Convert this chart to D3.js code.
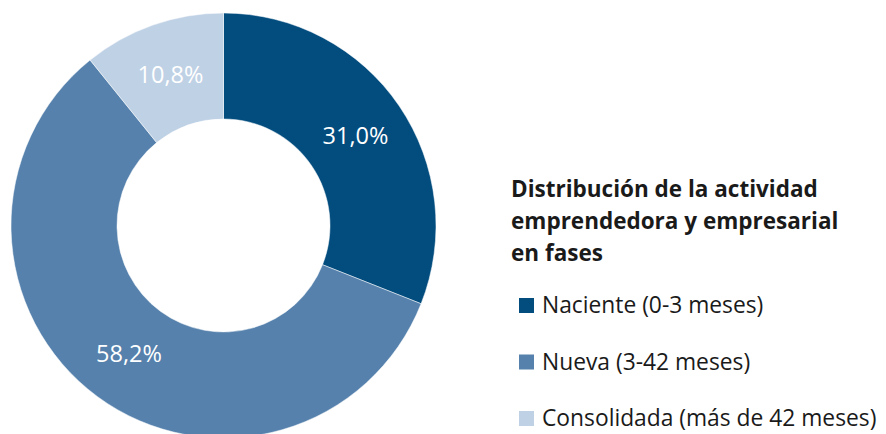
<!DOCTYPE html>
<html>
<head>
<meta charset="utf-8">
<script src="https://cdn.jsdelivr.net/npm/d3@7"></script>
<style>
  body { margin: 0; background: #fff; }
  svg { display: block; font-family: "Open Sans", sans-serif; }
</style>
</head>
<body>
<svg id="chart"></svg>
<script>
const phases = ['Naciente (0-3 meses)', 'Nueva (3-42 meses)', 'Consolidada (más de 42 meses)'];
const shares = [31.0, 58.2, 10.8];
const colors = ['#024c7e', '#5581ac', '#bfd1e5'];
const titleLines = ['Distribución de la actividad', 'emprendedora y empresarial', 'en fases'];

const width = 886;
const height = 434;
const cx = 223.5;
const cy = 225.5;
const outerR = 212.5;
const innerR = 106.5;

const svg = d3.select('#chart')
  .attr('width', width)
  .attr('height', height);

const data = phases.map((p, i) => ({ phase: p, value: shares[i], color: colors[i] }));

const pie = d3.pie()
  .sort(null)
  .value(d => d.value);

const arc = d3.arc()
  .innerRadius(innerR)
  .outerRadius(outerR);

const donut = svg.append('g')
  .attr('transform', `translate(${cx}, ${cy})`);

const slices = donut.selectAll('.slice')
  .data(pie(data))
  .enter()
  .append('g')
  .attr('class', 'slice');

slices.append('path')
  .attr('d', arc)
  .style('fill', d => d.data.color)
  .style('stroke', '#fff')
  .style('stroke-width', 0.5);

slices.append('text')
  .attr('transform', d => `translate(${arc.centroid(d)})`)
  .attr('text-anchor', 'middle')
  .attr('dy', '0.35em')
  .style('fill', '#fff')
  .style('font-size', '23.5px')
  .text(d => d.data.value.toFixed(1).replace('.', ',') + '%');

// legend
const legend = svg.append('g')
  .attr('transform', 'translate(511, 0)');

legend.selectAll('.title-line')
  .data(titleLines)
  .enter()
  .append('text')
  .attr('class', 'title-line')
  .attr('x', 0)
  .attr('y', (d, i) => 197 + i * 32)
  .style('font-size', '22.5px')
  .style('font-weight', 'bold')
  .style('fill', '#1a1a1a')
  .text(d => d);

const items = legend.selectAll('.legend-item')
  .data(data)
  .enter()
  .append('g')
  .attr('class', 'legend-item')
  .attr('transform', (d, i) => `translate(0, ${313 + i * 56.5})`);

items.append('rect')
  .attr('x', 8)
  .attr('y', -15)
  .attr('width', 15)
  .attr('height', 15)
  .style('fill', d => d.color);

items.append('text')
  .attr('x', 31)
  .attr('y', 0)
  .style('font-size', '22.8px')
  .style('fill', '#1a1a1a')
  .text(d => d.phase);
</script>
</body>
</html>
